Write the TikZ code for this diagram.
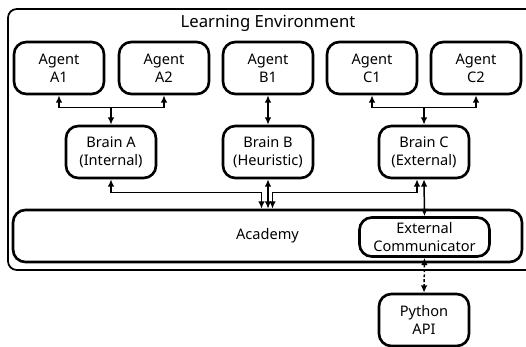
\documentclass[tikz,border=0pt]{standalone}
\usepackage{fontspec}
\setmainfont{Noto Sans}
\usepackage{tikz}
\usetikzlibrary{arrows.meta}
\usetikzlibrary{positioning}
\usetikzlibrary{calc}
\tikzstyle{box}=[draw,line width=1.5pt,rounded corners=7pt,align=center,inner sep=1pt,font=\fontsize{8.3}{10.3}\selectfont]
\tikzstyle{agent}=[box,minimum width=1.8cm,minimum height=1.04cm]
\tikzstyle{feed}=[line width=0.85pt,-{Latex[length=4.2pt,width=3.8pt]}]
\tikzstyle{link}=[feed,{Latex[length=4.2pt,width=3.8pt]}-{Latex[length=4.2pt,width=3.8pt]}]

\begin{document}
\begin{tikzpicture}[x=0.02cm,y=-0.02cm]
\useasboundingbox (0,0) rectangle (526,347);
% environment frame and its title
\draw[line width=1pt,rounded corners=5pt] (8,9) rectangle (540,270);
\node (title) at (268,23) {\fontsize{9.5}{11}\selectfont Learning Environment};
% agents
\node [agent] (a1) at (59,68) {Agent\\A1};
\node [agent] (a2) at (164,68) {Agent\\A2};
\node [agent] (b1) at (268,68) {Agent\\B1};
\node [agent] (c1) at (372,68) {Agent\\C1};
\node [agent] (c2) at (476,68) {Agent\\C2};
% brains
\node [agent] (brainA) at (111,152) {Brain A\\(Internal)};
\node [agent] (brainB) at (268,152) {Brain B\\(Heuristic)};
\node [agent] (brainC) at (424,152) {Brain C\\(External)};
% academy with the communicator inside
\node [box,minimum width=10.18cm,minimum height=1.04cm] (academy) at (267.5,236) {Academy};
\node [box,minimum width=2.6cm,minimum height=0.78cm] (extcomm) at (424.5,237) {External\\Communicator};
\node [agent] (python) at (424,320) {Python\\API};
% agents <-> brains
\coordinate (ja) at ($(brainA.north)+(0,-17)$);
\coordinate (jc) at ($(brainC.north)+(0,-17)$);
\draw[link] (a1.south) |- (ja) -| (a2.south);
\draw[feed] (ja) -- (brainA.north);
\draw[link] (c1.south) |- (jc) -| (c2.south);
\draw[feed] (jc) -- (brainC.north);
\draw[link] (b1.south) -- (brainB.north);
% brains <-> academy
\draw[link] (brainA.south) |- ($(academy.north)+(-6,-16)$) -- ($(academy.north)+(-6,0)$);
\draw[link] (brainB.south) -- (brainB.south |- academy.north);
\draw[link] ($(brainC.south)+(-7,0)$) |- ($(academy.north)+(5,-16)$) -- ($(academy.north)+(5,0)$);
\draw[link] (brainC.south) -- (extcomm.north);
% communicator <-> python
\draw[link,dash pattern=on 1.6pt off 1.2pt] (extcomm.south) -- (python.north);
\end{tikzpicture}
\end{document}
